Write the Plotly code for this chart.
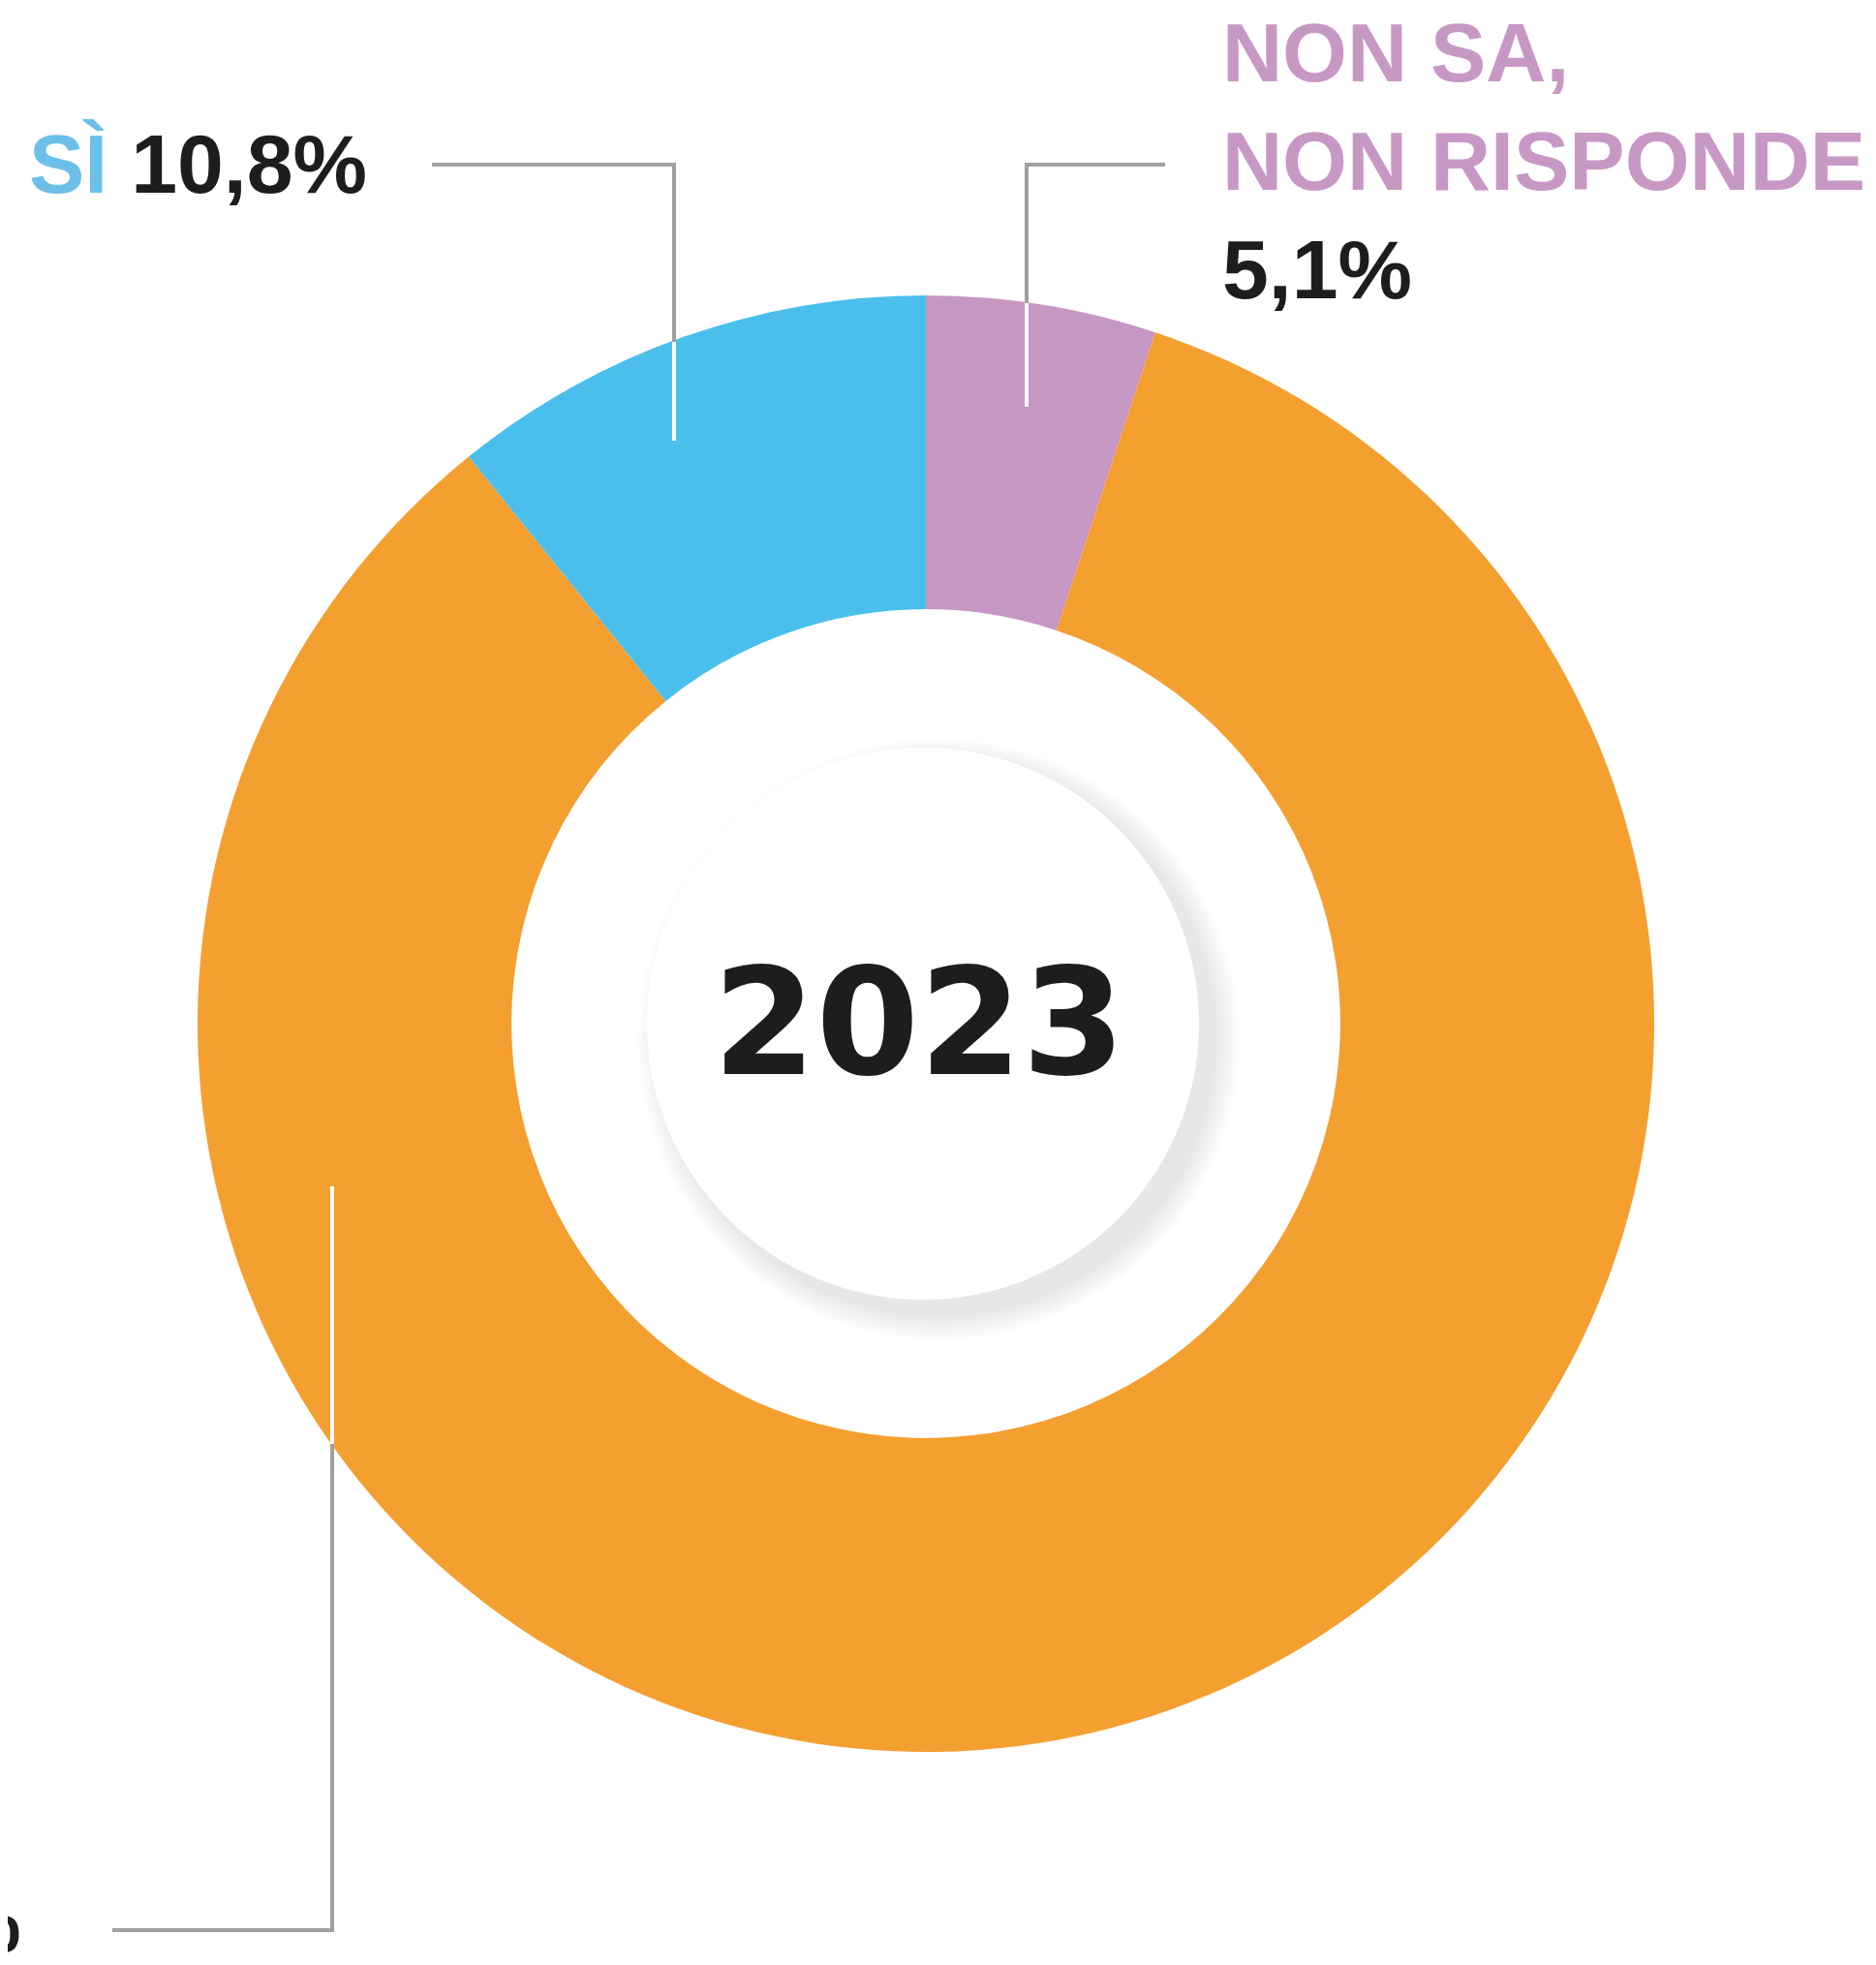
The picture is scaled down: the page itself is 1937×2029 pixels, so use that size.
import plotly.graph_objects as go

# ---- data ----
categories = ["NON SA, NON RISPONDE", "NO", "SÌ"]
values = [5.1, 84.1, 10.8]
value_labels = ["5,1%", "84,1%", "10,8%"]
slice_colors = ["#c697c3", "#f4a031", "#4bbfeb"]
label_colors = ["#c898c4", "#f4a031", "#6cc0e8"]
year_label = "2023"

W, H = 1937, 2029
OFF = 8                              # page body margin compensation
CX, CY, R = 956, 1057, 752           # donut centre / outer radius (page px)
HOLE = 0.569

fig = go.Figure()

# invisible pixel-space axes for decorations
fig.add_trace(go.Scatter(x=[None], y=[None], showlegend=False, hoverinfo="skip"))

fig.add_trace(go.Pie(
    labels=categories, values=values, sort=False, direction="clockwise",
    rotation=0, hole=HOLE, textinfo="none", hoverinfo="label+value",
    marker=dict(colors=slice_colors, line=dict(width=0)),
    domain=dict(x=[(CX - OFF - R) / W, (CX - OFF + R) / W],
                y=[(H + OFF - CY - R) / H, (H + OFF - CY + R) / H]),
    showlegend=False,
))

shapes = []
# soft shadow of inner disc
DX, DY, DR = 953, 1057, 285
n = 12
for k in range(n):
    rr = DR + 26 - k * 2.2
    shapes.append(dict(type="circle", xref="x", yref="y", layer="above",
                       x0=DX + 16 - rr, x1=DX + 16 + rr, y0=DY + 16 - rr, y1=DY + 16 + rr,
                       fillcolor="rgba(0,0,0,0.007)", line=dict(width=0)))
shapes.append(dict(type="circle", xref="x", yref="y", layer="above",
                   x0=DX - DR, x1=DX + DR, y0=DY - DR, y1=DY + DR,
                   fillcolor="#ffffff", line=dict(width=0)))

GRAY = "#a0a0a0"
LW = 4
def path(pts, color):
    d = "M " + " L ".join(f"{x},{y}" for x, y in pts)
    shapes.append(dict(type="path", xref="x", yref="y", layer="above", path=d,
                       line=dict(color=color, width=LW), fillcolor="rgba(0,0,0,0)"))

# SÌ leader
path([(446, 170), (696, 170), (696, 353)], GRAY)
path([(696, 353), (696, 455)], "#ffffff")
# NON SA leader
path([(1203, 170), (1060, 170), (1060, 313)], GRAY)
path([(1060, 313), (1060, 420)], "#ffffff")
# NO leader
path([(343, 1225), (343, 1491)], "#ffffff")
path([(343, 1491), (343, 1993), (116, 1993)], GRAY)

LABEL_FONT = dict(family="Liberation Sans, Arial, sans-serif", size=86, color="#1d1d1b", weight="bold")
annotations = [
    dict(x=28, y=169, xref="x", yref="y", xanchor="left", yanchor="middle", showarrow=False,
         text=f'<span style="color:{label_colors[2]}">{categories[2]}</span> {value_labels[2]}',
         font=LABEL_FONT),
    dict(x=1260, y=166, xref="x", yref="y", xanchor="left", yanchor="middle", showarrow=False,
         align="left",
         text=f'<span style="color:{label_colors[0]}">NON SA,<br>NON RISPONDE</span><br>{value_labels[0]}',
         font=LABEL_FONT),
    dict(x=24, y=1985, xref="x", yref="y", xanchor="right", yanchor="middle", showarrow=False,
         text=f'<span style="color:{label_colors[1]}">{categories[1]}</span> {value_labels[1]}',
         font=LABEL_FONT),
    dict(x=949, y=1056, xref="x", yref="y", xanchor="center", yanchor="middle", showarrow=False,
         text=year_label,
         font=dict(family="DejaVu Sans, sans-serif", size=153, color="#1d1d1b", weight="bold")),
]

fig.update_layout(
    width=W, height=H, autosize=False,
    margin=dict(l=0, r=0, t=0, b=0, pad=0),
    paper_bgcolor="#ffffff", plot_bgcolor="rgba(0,0,0,0)",
    xaxis=dict(range=[OFF, W + OFF], visible=False, fixedrange=True, domain=[0, 1]),
    yaxis=dict(range=[H + OFF, OFF], visible=False, fixedrange=True, domain=[0, 1]),
    shapes=shapes, annotations=annotations,
)

fig.write_html("out.html")
